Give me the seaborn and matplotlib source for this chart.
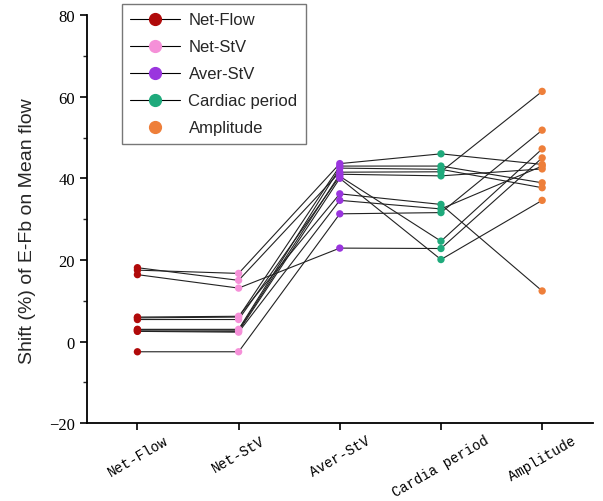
import matplotlib
matplotlib.use("Agg")
import matplotlib.pyplot as plt
from matplotlib.lines import Line2D
from matplotlib.ticker import MultipleLocator
import seaborn as sns
import pandas as pd

categories = ["Net-Flow", "Net-StV", "Aver-StV", "Cardia period", "Amplitude"]
legend_labels = ["Net-Flow", "Net-StV", "Aver-StV", "Cardiac period", "Amplitude"]
colors = ["#B00A0A", "#F590D8", "#9A35DE", "#1FAA7C", "#EE7F3A"]

net_flow = [17.5, 5.8, 3.0, 18.1, 2.9, 6.0, 2.5, -2.5, 5.4, 16.4, 2.6]
net_stv = [16.7, 6.0, 3.0, 15.0, 2.8, 6.2, 2.3, -2.5, 5.4, 13.1, 2.5]
aver_stv = [43.6, 43.0, 42.5, 41.5, 41.0, 36.2, 34.6, 31.3, 40.5, 22.9, 40.0]
cardia_period = [46.0, 43.0, 42.2, 41.6, 40.6, 33.6, 32.5, 31.6, 24.6, 22.8, 20.1]
amplitude = [43.4, 38.9, 37.7, 61.3, 42.3, 12.4, 43.0, 51.8, 47.2, 45.0, 34.6]

series = [net_flow, net_stv, aver_stv, cardia_period, amplitude]
rows = []
for ci, (cat, vals) in enumerate(zip(categories, series)):
    for si, v in enumerate(vals):
        rows.append({"subject": si, "cat": cat, "pos": ci, "value": v})
df = pd.DataFrame(rows)

sns.set_style("ticks")
fig = plt.figure(figsize=(6.03, 5.02), dpi=100)
ax = fig.add_axes([0.144, 0.155, 0.839, 0.813])

sns.lineplot(data=df, x="pos", y="value", units="subject", estimator=None,
             color="#222222", linewidth=0.8, ax=ax, legend=False, sort=False)
sns.scatterplot(data=df, x="pos", y="value", hue="cat", hue_order=categories,
                palette=colors, s=28, edgecolor="none", ax=ax, legend=False,
                zorder=3)

ax.set_xlim(-0.5, 4.5)
ax.set_ylim(-20, 80)
ax.set_xticks(range(len(categories)))
ax.set_xticklabels(categories, rotation=30, family="Liberation Mono",
                   fontsize=10, ha="center", va="top")
ax.yaxis.set_major_locator(MultipleLocator(20))
ax.yaxis.set_minor_locator(MultipleLocator(10))
ax.set_yticks([-20, 0, 20, 40, 60, 80])
ax.set_yticklabels(["\u221220", "0", "20", "40", "60", "80"],
                   family="Liberation Serif", fontsize=12, color="#333333")
ax.tick_params(axis="both", which="major", length=5, width=1.2, direction="out",
               colors="black")
ax.tick_params(axis="x", which="major", pad=2)
ax.tick_params(axis="y", which="minor", length=3, width=1.0, direction="out")
for s in ["left", "bottom"]:
    ax.spines[s].set_linewidth(1.3)
    ax.spines[s].set_color("black")
sns.despine(ax=ax)
ax.set_xlabel("")
ax.set_ylabel("Shift (%) of E-Fb on Mean flow", family="Liberation Sans",
              fontsize=14)
ax.yaxis.set_label_coords(-0.100, 0.473)

handles = []
for i, (lab, c) in enumerate(zip(legend_labels, colors)):
    ls = "-" if i < 4 else "none"
    handles.append(Line2D([0], [0], color="black", lw=0.8, linestyle=ls,
                          marker="o", markersize=8.5, markerfacecolor=c,
                          markeredgecolor=c))
leg = fig.legend(handles=handles, labels=legend_labels, loc="upper left",
                 bbox_to_anchor=(0.202, 0.99), borderaxespad=0, frameon=True,
                 fancybox=False,
                 prop={"family": "Liberation Sans", "size": 12},
                 handlelength=3.0, labelspacing=0.72, borderpad=0.5,
                 handletextpad=0.5)
leg.get_frame().set_edgecolor("#555555")
leg.get_frame().set_linewidth(1.0)

fig.savefig("out.png", dpi=100)
